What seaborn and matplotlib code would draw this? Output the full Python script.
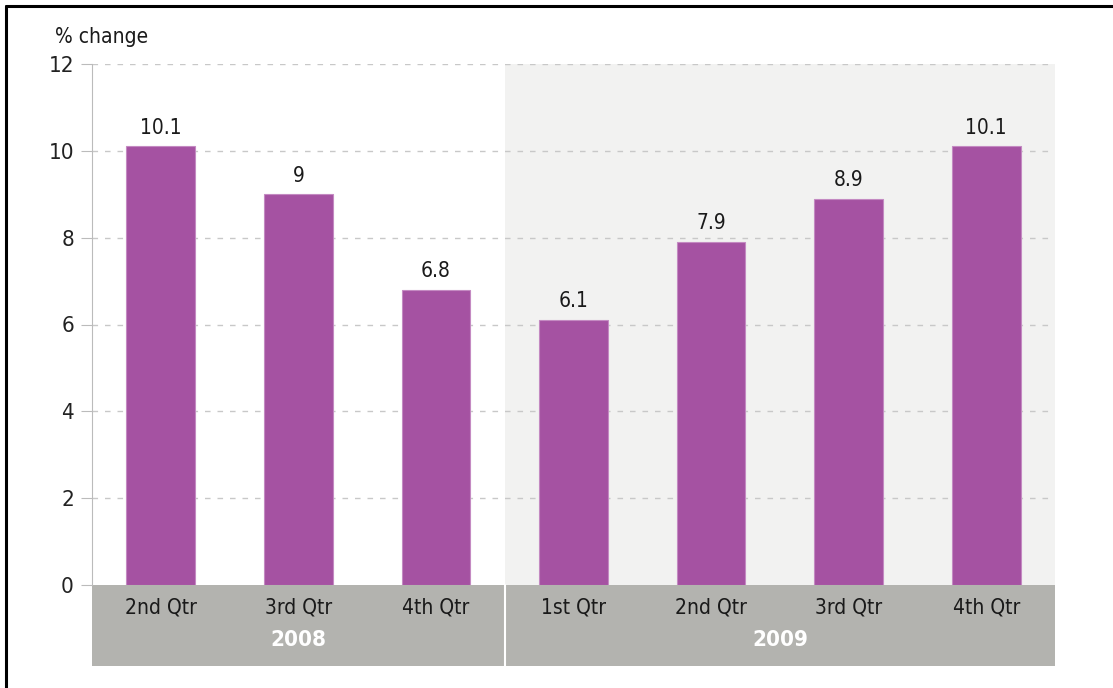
import matplotlib
matplotlib.use("Agg")
import matplotlib.pyplot as plt
import matplotlib.patches as mpatches
import matplotlib.transforms as mtransforms
import seaborn as sns
import pandas as pd

# ---- data ----
years = ["2008", "2008", "2008", "2009", "2009", "2009", "2009"]
quarters = ["2nd Qtr", "3rd Qtr", "4th Qtr", "1st Qtr", "2nd Qtr", "3rd Qtr", "4th Qtr"]
values = [10.1, 9, 6.8, 6.1, 7.9, 8.9, 10.1]
value_labels = ["10.1", "9", "6.8", "6.1", "7.9", "8.9", "10.1"]
year_groups = ["2008", "2009"]
y_ticks = [0, 2, 4, 6, 8, 10, 12]

sns.set_theme(style="white")
plt.rcParams['font.family'] = ['DejaVu Sans']
plt.rcParams['font.stretch'] = 'condensed'

slots = [f"{y} {q}" for y, q in zip(years, quarters)]
df = pd.DataFrame({"slot": slots, "value": values})

fig = plt.figure(figsize=(11.13, 6.88), dpi=100)
ax = fig.add_axes([92/1113, 1-585/688, (1055-92)/1113, (585-64)/688])

BAR = "#A552A2"
sns.barplot(data=df, x="slot", y="value", order=slots, color=BAR,
            width=0.5, saturation=1, edgecolor="#C48AC2", linewidth=0.8,
            ax=ax, zorder=3)

ax.set_xlim(-0.5, 6.5)
ax.set_ylim(0, 12)
ax.set_yticks(y_ticks)
ax.set_yticklabels([str(t) for t in y_ticks], fontsize=16, color="#222222")
ax.tick_params(axis="y", length=8, width=0.8, color="#BBBBBB", pad=5, left=True)

# shaded 2009 region
ax.axvspan(2.5, 6.5, color="#F2F2F1", zorder=0, lw=0)

# grid
for t in y_ticks[1:]:
    ax.axhline(t, color="#C8C8C8", lw=1, ls=(0, (4, 5)), zorder=1)

for s in ["top", "right", "bottom"]:
    ax.spines[s].set_visible(False)
ax.spines["left"].set_color("#BBBBBB")
ax.spines["left"].set_linewidth(0.8)
ax.set_xlabel("")
ax.set_ylabel("")

# category axis band
trans = mtransforms.blended_transform_factory(ax.transData, ax.transAxes)
band_h = (666 - 585) / (585 - 64)
ax.add_patch(mpatches.Rectangle((-0.5, -band_h), 7, band_h, transform=trans,
                                facecolor="#B3B3AF", edgecolor="none", clip_on=False, zorder=1))
ax.plot([2.5, 2.5], [-band_h, 0], transform=trans, color="white", lw=1.5,
        clip_on=False, zorder=2)

ax.set_xticks(range(len(quarters)))
ax.set_xticklabels(quarters, fontsize=15, color="#1A1A1A")
ax.tick_params(axis="x", length=0, pad=9)
ax.xaxis.set_zorder(6)

for i, yr in enumerate(year_groups):
    xs = [k for k, y in enumerate(years) if y == yr]
    xc = (min(xs) + max(xs)) / 2
    ax.text(xc, -(640 - 585) / (585 - 64), yr, transform=trans, ha="center", va="center",
            fontsize=16, fontweight="bold", color="white", zorder=6)

# value labels
for i, (v, lab) in enumerate(zip(values, value_labels)):
    ax.text(i, v + 0.2, lab, ha="center", va="bottom", fontsize=15, color="#1A1A1A", zorder=4)

fig.text(55/1113, 1 - 37/688, "% change", ha="left", va="center", fontsize=15, color="#1A1A1A")

# figure border (left and top)
fig.add_artist(plt.Line2D([6/1113, 6/1113], [0, 1 - 6/688], color="black", lw=2.2,
                          transform=fig.transFigure))
fig.add_artist(plt.Line2D([6/1113, 1], [1 - 6/688, 1 - 6/688], color="black", lw=2.2,
                          transform=fig.transFigure))

fig.savefig("out.png", dpi=100, facecolor="white")
